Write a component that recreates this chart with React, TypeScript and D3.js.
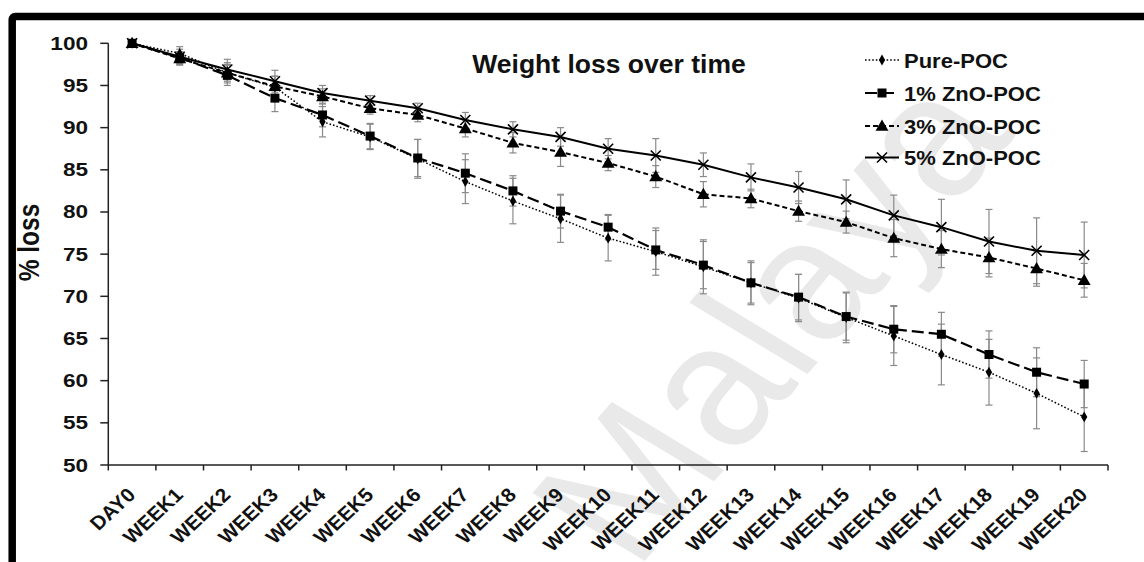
import React from "react";
import * as d3 from "d3";

// Categories along the x axis
const categories = [
  "DAY0", "WEEK1", "WEEK2", "WEEK3", "WEEK4", "WEEK5", "WEEK6", "WEEK7", "WEEK8", "WEEK9", "WEEK10",
  "WEEK11", "WEEK12", "WEEK13", "WEEK14", "WEEK15", "WEEK16", "WEEK17", "WEEK18", "WEEK19", "WEEK20",
];

// Mean remaining weight (%) per series
const purePOC = [100, 98.8, 96.5, 94.8, 90.7, 88.9, 86.3, 83.6, 81.3, 79.2, 76.9, 75.3, 73.5, 71.6, 69.8, 67.5, 65.3, 63.1, 61.0, 58.5, 55.7];
const zno1POC = [100, 98.3, 96.2, 93.5, 91.5, 89.0, 86.4, 84.6, 82.5, 80.1, 78.2, 75.5, 73.7, 71.6, 69.9, 67.6, 66.1, 65.5, 63.1, 61.0, 59.6];
const zno3POC = [100, 98.2, 96.5, 94.9, 93.7, 92.3, 91.5, 89.9, 88.2, 87.1, 85.8, 84.2, 82.1, 81.6, 80.1, 78.8, 76.9, 75.6, 74.6, 73.3, 71.9];
const zno5POC = [100, 98.4, 96.9, 95.5, 94.1, 93.2, 92.3, 90.9, 89.8, 88.9, 87.5, 86.7, 85.6, 84.1, 82.9, 81.5, 79.6, 78.2, 76.5, 75.4, 74.9];

// Standard deviations (error bars)
const purePOCErr = [0, 0.8, 1.2, 1.3, 1.8, 1.5, 2.3, 2.6, 2.7, 2.8, 2.7, 2.8, 3.2, 2.6, 2.8, 3.0, 3.5, 3.6, 3.9, 4.2, 4.1];
const zno1POCErr = [0, 0.7, 1.2, 1.6, 1.4, 1.5, 2.2, 2.3, 1.8, 2.0, 1.5, 2.3, 2.8, 2.4, 2.7, 2.8, 2.8, 2.6, 2.8, 2.9, 2.8];
const zno3POCErr = [0, 0.8, 1.0, 1.2, 0.9, 0.7, 0.8, 1.0, 1.2, 1.7, 0.9, 1.3, 1.5, 1.1, 1.2, 1.3, 2.2, 2.2, 2.3, 2.1, 2.0];
const zno5POCErr = [0, 0.9, 1.2, 1.3, 0.9, 0.6, 0.6, 0.9, 0.9, 1.1, 1.2, 2.0, 1.4, 1.6, 1.9, 2.3, 2.4, 3.3, 3.8, 3.9, 3.9];

const seriesNames = ["Pure-POC", "1% ZnO-POC", "3% ZnO-POC", "5% ZnO-POC"];

const yTickValues = [50, 55, 60, 65, 70, 75, 80, 85, 90, 95, 100];

const FONT = "Arial, 'Liberation Sans', Helvetica, sans-serif";

type Marker = "diamond" | "square" | "triangle" | "cross";

const series = [
  { name: seriesNames[0], values: purePOC, errs: purePOCErr, marker: "diamond" as Marker, dash: "1.6 2", width: 1.5 },
  { name: seriesNames[1], values: zno1POC, errs: zno1POCErr, marker: "square" as Marker, dash: "12 5", width: 2.2 },
  { name: seriesNames[2], values: zno3POC, errs: zno3POCErr, marker: "triangle" as Marker, dash: "5 3", width: 2 },
  { name: seriesNames[3], values: zno5POC, errs: zno5POCErr, marker: "cross" as Marker, dash: "none", width: 2 },
];

function MarkerShape({ kind, cx, cy }: { kind: Marker; cx: number; cy: number }) {
  if (kind === "square") {
    return <rect x={cx - 4.5} y={cy - 4.5} width={9} height={9} fill="#000" />;
  }
  if (kind === "diamond") {
    const p = d3.symbol().type(d3.symbolDiamond).size(34)();
    return <path d={p || ""} transform={`translate(${cx},${cy})`} fill="#000" />;
  }
  if (kind === "triangle") {
    const p = d3.symbol().type(d3.symbolTriangle).size(72)();
    return <path d={p || ""} transform={`translate(${cx},${cy + 1})`} fill="#000" />;
  }
  const r = 5;
  return (
    <g stroke="#000" strokeWidth={1.6} fill="none">
      <line x1={cx - r} y1={cy - r} x2={cx + r} y2={cy + r} />
      <line x1={cx - r} y1={cy + r} x2={cx + r} y2={cy - r} />
    </g>
  );
}

export default function App() {
  const W = 1144;
  const H = 562;

  const x = d3.scaleBand<string>().domain(categories).range([108.3, 1108]).padding(0);
  const y = d3.scaleLinear().domain([50, 100]).range([465, 43.3]);
  const xc = (c: string) => (x(c) as number) + x.bandwidth() / 2;

  const line = d3
    .line<number>()
    .x((_, i) => xc(categories[i]))
    .y((v) => y(v));

  const boundaries = [...categories.map((c) => x(c) as number), x.range()[1]];
  const axisY = y(50);
  const axisX = x.range()[0];

  const legendX = 865;
  const legendRows = [60, 93, 126, 157.5];

  return (
    <svg
      width={W}
      height={H}
      style={{ position: "absolute", left: 0, top: 0, background: "#fff" }}
      fontFamily={FONT}
    >
      <rect x={0} y={0} width={W} height={H} fill="#fff" />

      {/* Watermark */}
      <text
        transform="translate(635,572) scale(1.2,1) rotate(-54)"
        fontSize={168}
        fill="#e9e9e9"
        fontFamily={FONT}
      >
        Malaya
      </text>

      {/* Outer frame */}
      <rect x={12.2} y={16.4} width={1300} height={800} rx={3} fill="none" stroke="#000" strokeWidth={7.5} />

      {/* Title */}
      <text x={609} y={73} textAnchor="middle" fontSize={26.5} fontWeight="bold" fill="#111">
        Weight loss over time
      </text>

      {/* Y axis */}
      <line x1={axisX} x2={axisX} y1={y(100)} y2={axisY} stroke="#222" strokeWidth={1.5} />
      {yTickValues.map((t) => (
        <g key={t}>
          <line x1={axisX - 8} x2={axisX} y1={y(t)} y2={y(t)} stroke="#222" strokeWidth={1.5} />
          <text
            transform={`translate(88,${y(t) + 6.5}) scale(1.22,1)`}
            textAnchor="end"
            fontSize={18.5}
            fontWeight="bold"
            fill="#111"
          >
            {t}
          </text>
        </g>
      ))}
      <text
        transform={`translate(39,242.5) scale(1.2,1) rotate(-90)`}
        textAnchor="middle"
        fontSize={24.5}
        fontWeight="bold"
        fill="#111"
      >
        % loss
      </text>

      {/* X axis */}
      <line x1={axisX} x2={x.range()[1]} y1={axisY} y2={axisY} stroke="#222" strokeWidth={1.5} />
      {boundaries.map((b, i) => (
        <line key={i} x1={b} x2={b} y1={axisY} y2={axisY + 5.5} stroke="#222" strokeWidth={1.5} />
      ))}
      {categories.map((c) => (
        <text
          key={c}
          transform={`translate(${xc(c) + 4.5},496) scale(1.07,1) rotate(-45)`}
          textAnchor="end"
          fontSize={19.5}
          fontWeight="bold"
          fill="#111"
        >
          {c}
        </text>
      ))}

      {/* Error bars */}
      {series.map((s) => (
        <g key={s.name + "-err"} stroke="#8a8a8a" strokeWidth={1.2}>
          {s.values.map((v, i) => {
            if (!s.errs[i]) return null;
            const cx = xc(categories[i]);
            const top = y(v + s.errs[i]);
            const bot = y(v - s.errs[i]);
            return (
              <g key={i}>
                <line x1={cx} x2={cx} y1={top} y2={bot} />
                <line x1={cx - 3.5} x2={cx + 3.5} y1={top} y2={top} />
                <line x1={cx - 3.5} x2={cx + 3.5} y1={bot} y2={bot} />
              </g>
            );
          })}
        </g>
      ))}

      {/* Series lines */}
      {series.map((s) => (
        <path
          key={s.name + "-line"}
          d={line(s.values) || ""}
          fill="none"
          stroke="#000"
          strokeWidth={s.width}
          strokeDasharray={s.dash}
        />
      ))}

      {/* Markers */}
      {series.map((s) => (
        <g key={s.name + "-markers"}>
          {s.values.map((v, i) => (
            <MarkerShape key={i} kind={s.marker} cx={xc(categories[i])} cy={y(v)} />
          ))}
        </g>
      ))}

      {/* Legend */}
      {series.map((s, i) => {
        const ly = legendRows[i];
        return (
          <g key={s.name + "-legend"}>
            <line
              x1={legendX}
              x2={legendX + 34}
              y1={ly}
              y2={ly}
              stroke="#000"
              strokeWidth={s.width}
              strokeDasharray={s.dash}
            />
            <MarkerShape kind={s.marker} cx={legendX + 17} cy={ly} />
            <text
              transform={`translate(${legendX + 39},${ly + 7.5}) scale(1.1,1)`}
              fontSize={20}
              fontWeight="bold"
              fill="#111"
            >
              {s.name}
            </text>
          </g>
        );
      })}
    </svg>
  );
}
